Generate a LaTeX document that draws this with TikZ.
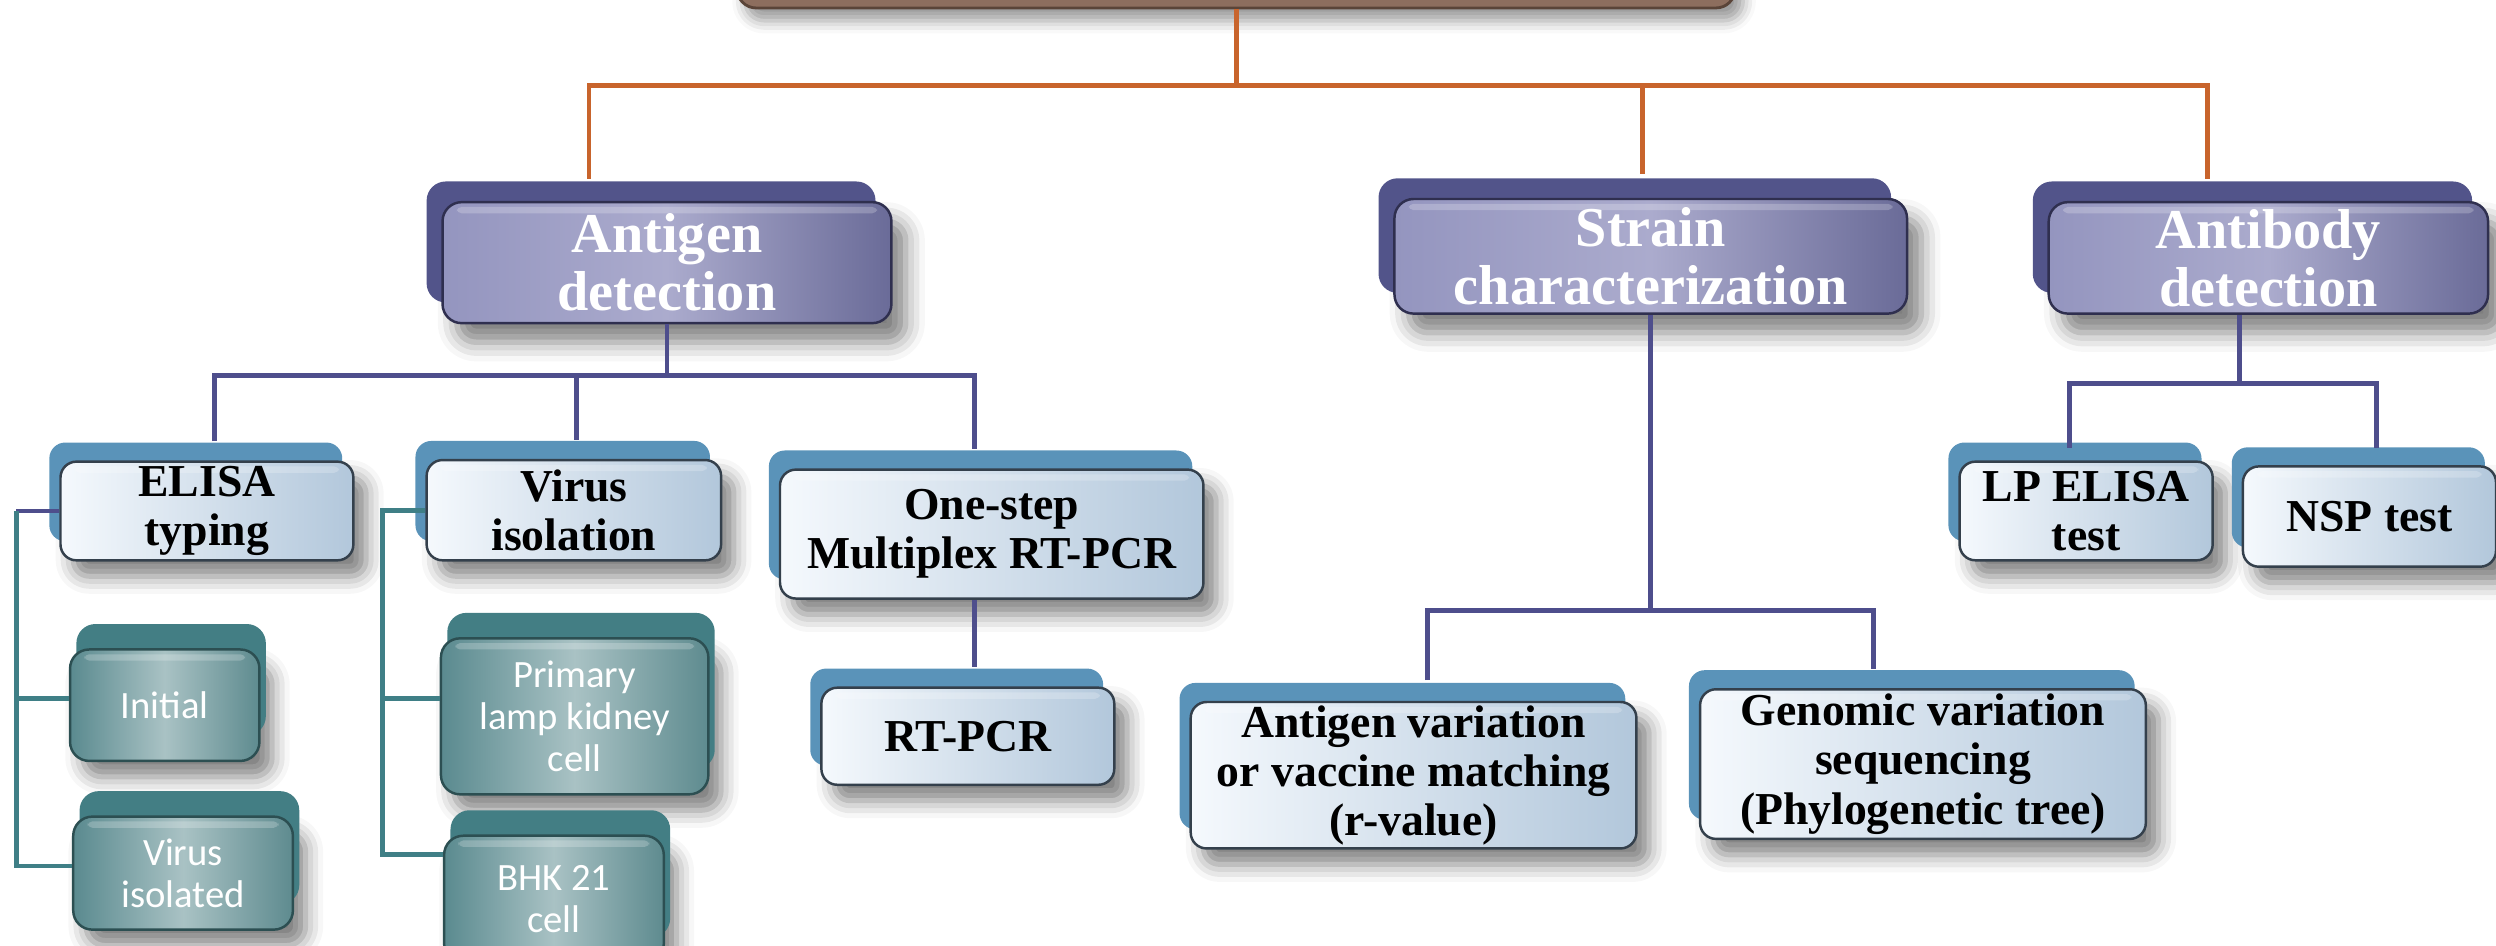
\documentclass[tikz,border=0pt]{standalone}
\usepackage{fontspec}
\setmainfont{Liberation Serif}
\newfontfamily\calib{Carlito}
\usetikzlibrary{shadows.blur}
\newlength{\pxu}
\setlength{\pxu}{0.015918cm}
\definecolor{oline}{HTML}{C8642C}
\definecolor{pline}{HTML}{4E4E8C}
\definecolor{tline}{HTML}{3F7F86}
\definecolor{rootfill}{HTML}{8D6E5E}
\definecolor{rootedge}{HTML}{5A4438}
\definecolor{oneback}{HTML}{52548A}
\definecolor{oneleft}{HTML}{9495BF}
\definecolor{onemid}{HTML}{ABABCD}
\definecolor{oneright}{HTML}{6A6B98}
\definecolor{oneedge}{HTML}{2F2F4F}
\definecolor{twoback}{HTML}{5A93B9}
\definecolor{twoleft}{HTML}{F5F9FD}
\definecolor{tworight}{HTML}{B2C7DB}
\definecolor{twoedge}{HTML}{34404C}
\definecolor{thrback}{HTML}{437E84}
\definecolor{thrleft}{HTML}{5A8A8F}
\definecolor{thrmid}{HTML}{A9C2C4}
\definecolor{thrright}{HTML}{5E8B8F}
\definecolor{thredge}{HTML}{2C4F52}
\begin{document}
\begin{tikzpicture}[x=0.015918cm, y=-0.015918cm,
  gloss/.style={path picture={\fill[white,opacity=.22,rounded corners=3\pxu] ([xshift=9\pxu,yshift=-3\pxu]path picture bounding box.north west) rectangle ([xshift=-9\pxu,yshift=-7\pxu]path picture bounding box.north east);}},
  rootbox/.style={draw=rootedge, line width=0.8pt, rounded corners=12\pxu, fill=rootfill,
    blur shadow={shadow xshift=5\pxu, shadow yshift=-8\pxu, shadow blur radius=8\pxu}},
  lone/.style={draw=oneedge, line width=0.7pt, rounded corners=12\pxu, left color=oneleft, right color=oneright, middle color=onemid,
    text=white, font=\bfseries\fontsize{16}{16.5}\selectfont, align=center, inner sep=0pt, gloss,
    blur shadow={shadow xshift=9\pxu, shadow yshift=-12\pxu, shadow blur radius=12\pxu, shadow opacity=50},
    general shadow={fill=oneback, shadow xshift=-10\pxu, shadow yshift=13\pxu}},
  ltwo/.style={draw=twoedge, line width=0.7pt, rounded corners=10\pxu, left color=twoleft, right color=tworight,
    text=black, font=\bfseries\fontsize{13}{14}\selectfont, align=center, inner sep=0pt, gloss,
    blur shadow={shadow xshift=8\pxu, shadow yshift=-10\pxu, shadow blur radius=11\pxu, shadow opacity=50},
    general shadow={fill=twoback, shadow xshift=-7\pxu, shadow yshift=12\pxu}},
  lthree/.style={draw=thredge, line width=0.7pt, rounded corners=12\pxu, left color=thrleft, right color=thrright, middle color=thrmid,
    text=white, font=\calib\fontsize{11}{12}\selectfont, align=center, inner sep=0pt, gloss,
    blur shadow={shadow xshift=8\pxu, shadow yshift=-10\pxu, shadow blur radius=11\pxu, shadow opacity=50},
    general shadow={fill=thrback, shadow xshift=4\pxu, shadow yshift=16\pxu}},
  orgln/.style={oline, line width=1.4pt},
  purln/.style={pline, line width=1.4pt},
  tealn/.style={tline, line width=1.4pt}]
\useasboundingbox (0,0) rectangle (1568,594);
\node[rootbox, minimum width=627\pxu, minimum height=65\pxu] (root) at (776.5,-27.5) {};
\node[lone, minimum width=282\pxu, minimum height=76\pxu] (antigen) at (419,165) {Antigen\\detection};
\node[lone, minimum width=322\pxu, minimum height=72\pxu] (strain) at (1037,161) {Strain\\characterization};
\node[lone, minimum width=276\pxu, minimum height=70\pxu] (antibody) at (1425,162) {Antibody\\detection};
\node[ltwo, minimum width=184\pxu, minimum height=62\pxu] (elisa) at (130,321) {ELISA\\typing};
\node[ltwo, minimum width=185\pxu, minimum height=63\pxu] (viso) at (360.5,320.5) {Virus\\isolation};
\node[ltwo, minimum width=266\pxu, minimum height=81\pxu] (mplex) at (623,335.5) {One-step\\Multiplex RT-PCR};
\node[ltwo, minimum width=184\pxu, minimum height=61\pxu] (rtpcr) at (608,462.5) {RT-PCR};
\node[lthree, minimum width=119\pxu, minimum height=70\pxu] (initial) at (103.5,443) {Initial};
\node[lthree, minimum width=138\pxu, minimum height=71\pxu] (visold) at (115,548.5) {Virus\\isolated};
\node[lthree, minimum width=168\pxu, minimum height=98\pxu] (plk) at (361,450) {Primary\\lamp kidney\\cell};
\node[lthree, minimum width=138\pxu, minimum height=80\pxu] (bhk) at (348,565) {BHK 21\\cell};
\node[ltwo, minimum width=280\pxu, minimum height=92\pxu] (agvar) at (888,487) {Antigen variation\\or vaccine matching\\(r-value)};
\node[ltwo, minimum width=280\pxu, minimum height=94\pxu] (genvar) at (1208,480) {Genomic variation\\sequencing\\(Phylogenetic tree)};
\node[ltwo, minimum width=159\pxu, minimum height=62\pxu] (lpelisa) at (1310.5,321) {LP ELISA\\test};
\node[ltwo, minimum width=159\pxu, minimum height=63\pxu] (nsp) at (1488.5,324.5) {NSP test};

\coordinate (hub) at ([yshift=-48\pxu]root.south);
\coordinate (ta) at ([xshift=-49\pxu,yshift=14\pxu]antigen.north);
\coordinate (ts) at ([xshift=-5\pxu,yshift=15\pxu]strain.north);
\coordinate (tb) at ([xshift=-38\pxu,yshift=14\pxu]antibody.north);
\draw[orgln] (root.south) -- (hub);
\draw[orgln] (ta) -- (ta |- hub) -- (tb |- hub) -- (tb);
\draw[orgln] (ts) -- (ts |- hub);

\coordinate (pa) at ([yshift=-32\pxu]antigen.south);
\coordinate (e1) at ([xshift=5\pxu,yshift=12\pxu]elisa.north);
\coordinate (v1) at ([xshift=1.5\pxu,yshift=12\pxu]viso.north);
\coordinate (m1) at ([xshift=-11\pxu,yshift=12\pxu]mplex.north);
\draw[purln] (antigen.south) -- (pa);
\draw[purln] (e1) -- (e1 |- pa) -- (m1 |- pa) -- (m1);
\draw[purln] (v1) -- (v1 |- pa);
\draw[purln] ([xshift=-11\pxu]mplex.south) -- ([xshift=4\pxu,yshift=12\pxu]rtpcr.north);

\coordinate (ps) at ([yshift=-186\pxu]strain.south);
\coordinate (g1) at ([xshift=9\pxu,yshift=13\pxu]agvar.north);
\coordinate (g2) at ([xshift=-31\pxu,yshift=12\pxu]genvar.north);
\draw[purln] (strain.south) -- (ps);
\draw[purln] (g1) -- (g1 |- ps) -- (g2 |- ps) -- (g2);

\coordinate (pb) at ([xshift=-18\pxu,yshift=-43\pxu]antibody.south);
\coordinate (l1) at ([xshift=-10.5\pxu,yshift=8\pxu]lpelisa.north);
\coordinate (n1) at ([xshift=4.5\pxu,yshift=11\pxu]nsp.north);
\draw[purln] (pb |- antibody.south) -- (pb);
\draw[purln] (l1) -- (l1 |- pb) -- (n1 |- pb) -- (n1);

\draw[purln] (elisa.west) -- ++(-27,0) coordinate (ev);
\draw[tealn] (ev) |- ([yshift=4.5\pxu]visold.west);
\draw[tealn] ([yshift=4\pxu]initial.west) -- ([yshift=4\pxu]initial.west -| ev);
\draw[tealn] (viso.west) -- ++(-27,0) coordinate (vv) |- ([yshift=28\pxu]bhk.west);
\draw[tealn] ([yshift=11\pxu]plk.west) -- ([yshift=11\pxu]plk.west -| vv);
\end{tikzpicture}
\end{document}
